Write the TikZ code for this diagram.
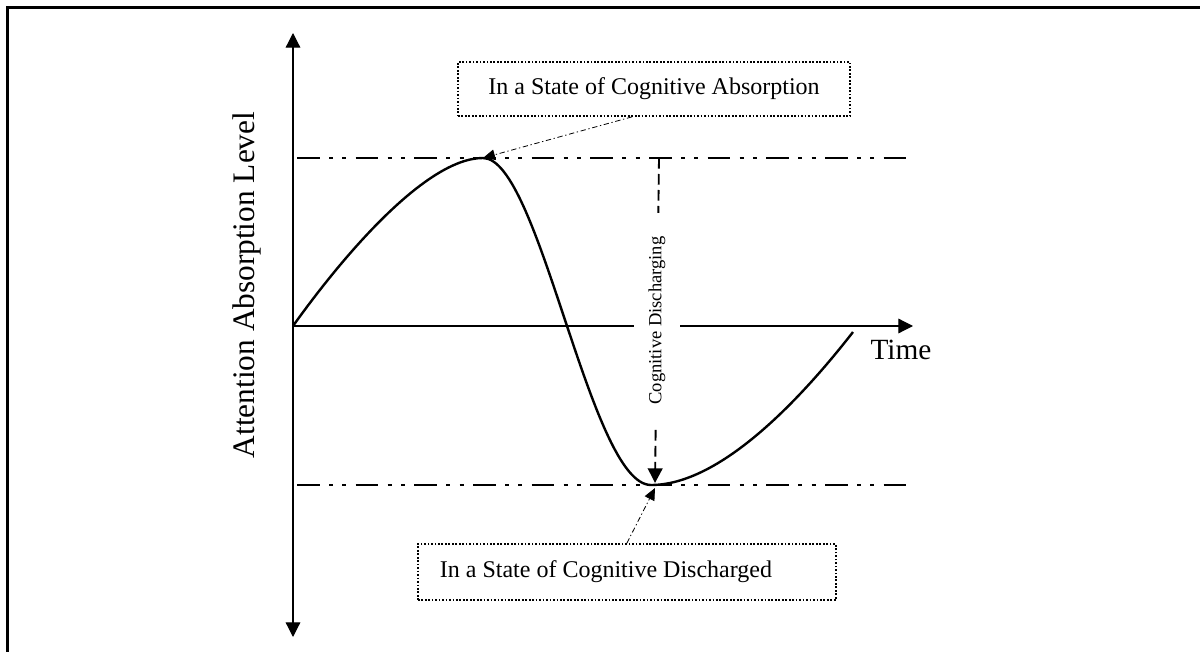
\documentclass[tikz,border=0pt]{standalone}
\usepackage{fontspec}
\setmainfont{Liberation Serif}
\usetikzlibrary{arrows.meta,calc}
\begin{document}
\begin{tikzpicture}[x=0.75pt,y=-0.75pt,
  frameline/.style={line width=1.7pt},
  axisline/.style={line width=0.9pt},
  bigtip/.style={-{Triangle[length=11pt,width=11pt]}},
  refline/.style={line width=1.4pt, dash pattern=on 17pt off 7pt on 3pt off 7pt on 3pt off 7pt},
  curveline/.style={line width=1.8pt},
  box/.style={draw, line width=1.3pt, dash pattern=on 1.3pt off 1.3pt, font=\fontsize{18}{21}\selectfont, inner sep=0pt},
  pointer/.style={line width=0.6pt, dash pattern=on 4pt off 2pt on 1pt off 2pt, -{Triangle[length=9pt,width=8pt]}},
  vdash/.style={line width=1.4pt, dash pattern=on 8pt off 4pt, -{Triangle[length=11pt,width=11pt]}},
  vlabel/.style={rotate=90, fill=white, font=\fontsize{13.9}{16}\selectfont, inner xsep=18pt, inner ysep=11pt},
  axislabel/.style={font=\fontsize{22}{26}\selectfont}
]
\useasboundingbox (0,0) rectangle (1200,652);
% frame (table cell edges)
\draw[frameline] (7.5,652) -- (7.5,7.5) -- (1200,7.5);

% coordinates
\coordinate (origin) at (293,326);
\coordinate (ytop) at (293,33);
\coordinate (ybot) at (293,637);
\coordinate (xend) at (913,326);
\coordinate (hiL) at (297,158);
\coordinate (hiR) at (915,158);
\coordinate (loL) at (297,485);
\coordinate (loR) at (915,485);
\coordinate (peak) at (483,158);
\coordinate (trough) at (651,485);
\coordinate (curveend) at (853,332);
\coordinate (vtop) at (659,158);
\coordinate (vbot) at (655,483);
\coordinate (tip2) at (655,488);

% axes
\draw[axisline, {Triangle[length=11pt,width=11pt]}-{Triangle[length=11pt,width=11pt]}] (ybot) -- (ytop);
\draw[axisline, bigtip] (origin) -- (xend);

% reference levels
\draw[refline] (hiL) -- (hiR);
\draw[refline] (loL) -- (loR);

% curve
\draw[curveline] (origin) .. controls (340,260) and (425,158) .. (peak)
  .. controls (540,158) and (590,485) .. (trough)
  .. controls (720,485) and (800,400) .. (curveend);

% discharging arrow with label
\draw[vdash] (vtop) -- node[vlabel] (dlabel) {Cognitive Discharging} (vbot);

% axis labels
\node[axislabel, anchor=base] (time) at (901,359) {Time};
\node[axislabel, rotate=90, font=\fontsize{23.5}{27}\selectfont] (ylabel) at (247,285) {Attention Absorption Level};

% boxes
\node[box, minimum width=294pt, minimum height=40.5pt] (absorb) at (654,89) {In a State of Cognitive Absorption};
\node[box, anchor=west, minimum height=42pt, inner xsep=16.5pt] (dis) at (417,572) {\makebox[280.5pt][l]{In a State of Cognitive Discharged}};

% pointers
\draw[pointer] ([xshift=-16.5pt]absorb.south) -- (peak);
\draw[pointer] (dis.north) -- (tip2);
\end{tikzpicture}
\end{document}
